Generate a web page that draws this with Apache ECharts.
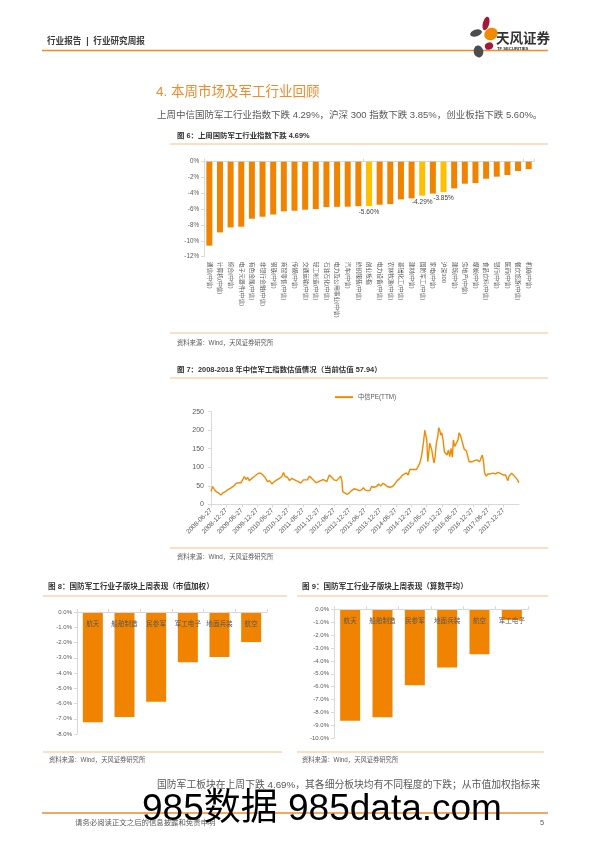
<!DOCTYPE html>
<html><head><meta charset="utf-8">
<script src="https://cdn.jsdelivr.net/npm/echarts@6/dist/echarts.min.js"></script>
<style>html,body{margin:0;padding:0;background:#fff}#c{width:596px;height:842px}</style>
</head><body><div id="c"></div>
<script>
// ---------- DATA ----------
const industryNames = ['通信(中信)','计算机(中信)','综合(中信)','电子元器件(中信)','有色金属(中信)','非银行金融(中信)','钢铁(中信)','商贸零售(中信)','传媒(中信)','交通运输(中信)','轻工制造(中信)','石油石化(中信)','电力及公用事业(中信)','汽车(中信)','纺织服装(中信)','创业板指','电力设备(中信)','农林牧渔(中信)','基础化工(中信)','建材(中信)','国防军工(中信)','家电(中信)','沪深300','建筑(中信)','房地产(中信)','煤炭(中信)','食品饮料(中信)','银行(中信)','医药(中信)','餐饮旅游(中信)','机械(中信)'];
const industryChange = [-10.60,-8.93,-8.30,-8.21,-7.20,-6.95,-6.67,-6.27,-6.19,-6.06,-5.98,-5.73,-5.70,-5.68,-5.62,-5.60,-5.43,-5.35,-4.76,-4.63,-4.29,-4.02,-3.85,-3.37,-2.78,-2.69,-2.15,-1.89,-1.68,-1.18,-0.93];
const highlightNames = ['创业板指','国防军工(中信)','沪深300'];

const peTickLabels = ['2008-06-27','2008-12-27','2009-06-27','2009-12-27','2010-06-27','2010-12-27','2011-06-27','2011-12-27','2012-06-27','2012-12-27','2013-06-27','2013-12-27','2014-06-27','2014-12-27','2015-06-27','2015-12-27','2016-06-27','2016-12-27','2017-06-27','2017-12-27'];
// months elapsed since 2008-06-27
const peMonthOffset = [0,0.65,1.3,2.07,2.98,3.89,4.66,5.57,6.48,7.51,
8.16,8.81,9.84,10.75,11.66,12.31,12.95,13.73,14.25,14.9,
15.93,16.84,17.62,18.52,19.43,20.21,21.11,22.02,22.8,23.7,
24.61,25.65,26.68,27.59,28.24,28.89,29.79,30.57,31.48,32.12,
33.16,34.07,34.97,36.01,36.66,37.56,38.34,39.25,39.9,40.93,
41.84,42.75,43.78,44.43,45.08,46.11,47.02,47.93,48.96,49.61,
50.52,51.04,51.3,52.2,53.11,53.89,54.79,55.7,56.74,57.77,
58.68,59.33,59.97,60.88,61.92,62.56,63.47,64.51,65.28,66.06,
67.1,67.75,68.65,69.69,70.73,71.63,72.54,73.58,74.61,75.13,
76.17,76.81,77.46,78.11,79.02,80.05,80.7,81.35,82.0,82.38,
82.9,83.29,83.68,84.07,84.46,84.84,85.23,85.62,86.01,86.53,
86.92,87.31,87.82,88.34,88.73,89.12,89.51,89.9,90.41,90.93,
91.45,91.97,92.49,93.01,93.52,94.04,94.43,94.95,95.6,96.24,
96.63,97.15,97.67,98.19,98.7,99.48,100.13,100.52,101.04,101.81,
102.72,103.63,104.66,105.31,105.7,106.09,106.61,107.25,107.9,108.81,
109.84,110.88,111.79,112.44,113.08,113.99,114.77,115.28,115.67,116.06,
116.58,117.1,117.62,118.26,118.91,119.43,119.95];
const peValue = [35,48,40,34,30,25,31,34,39,43,
40,49,57,58,58,66,75,67,73,64,
70,75,79,84,84,79,72,61,64,55,
61,66,70,75,86,75,73,64,70,75,
64,61,57,66,70,66,76,70,66,58,
61,64,67,64,61,79,73,66,64,66,
76,61,34,30,27,31,37,42,40,37,
39,45,39,37,37,48,46,48,55,49,
57,52,48,46,48,55,64,70,79,84,
85,79,94,91,94,94,97,111,129,147,
174,200,202,174,115,138,165,169,147,124,
111,129,165,183,207,200,187,193,174,142,
147,133,147,129,151,127,174,156,160,174,
193,187,174,178,148,145,147,115,118,115,
118,120,115,112,133,120,84,76,82,82,
84,82,86,84,82,79,79,70,64,75,
79,84,79,76,75,66,57.94];

const capSectors = ['航天','船舶制造','民参军','军工电子','地面兵装','航空'];
const capChange = [-7.23,-6.88,-5.88,-3.30,-2.95,-1.97];
const avgSectors = ['航天','船舶制造','民参军','地面兵装','航空','军工电子'];
const avgChange = [-8.63,-8.37,-5.89,-4.52,-3.49,-0.82];

// ---------- STYLE ----------
const FONT = '"Liberation Sans", "Noto Sans CJK SC", sans-serif';
const ORANGE = '#F08300';
const YELLOW = '#FFC000';
const LINE_ORANGE = '#F8BE8A';
const GRAY_TXT = '#595959';
const AXIS_GRAY = '#D9D9D9';

function txt(x, y, text, size, color, weight, align, z) {
  return {type:'text', x:x, y:y, z: z || 10, style:{text:text, fontSize:size, fontFamily:FONT, fontWeight:weight||'normal', fill:color, align:align||'left', verticalAlign:'middle'}};
}
function hline(x1, x2, y, color, w) {
  return {type:'line', shape:{x1:x1, y1:y, x2:x2, y2:y}, style:{stroke:color, lineWidth:w||1}};
}
function petal(cx, cy, rx, ry, rot, color) {
  return {type:'circle', x:cx, y:cy, scaleX:rx/10, scaleY:ry/10, rotation:rot, shape:{cx:0, cy:0, r:10}, style:{fill:color}};
}

const graphics = [
  // header
  txt(47, 42, '行业报告  |  行业研究周报', 8.6, '#404040', 'bold'),
  hline(42, 548, 50.5, '#F08A2B', 1.6),
  petal(486, 23.5, 3.2, 7, -0.25, '#A3173A'),
  petal(491, 34, 7, 6, 0.6, '#F08A00'),
  petal(476, 33, 6, 3.5, 0.3, '#4D4D4D'),
  petal(489, 46, 4.2, 3.6, 0.4, '#A3173A'),
  petal(478.5, 51.5, 4.8, 6, 0.2, '#4D4D4D'),
  txt(496, 39, '天风证券', 13.5, '#333333', 'bold'),
  txt(497, 48.5, 'TF SECURITIES', 4.2, '#333333', 'bold'),
  // section heading & text
  txt(156, 92, '4. 本周市场及军工行业回顾', 13.5, '#F08A2B', 'normal'),
  txt(157, 115, '上周中信国防军工行业指数下跌 4.29%，沪深 300 指数下跌 3.85%，创业板指下跌 5.60%。', 9.5, GRAY_TXT),
  // fig 6
  txt(177, 136, '图 6：上周国防军工行业指数下跌 4.69%', 7.4, '#333333', 'bold'),
  hline(170, 548, 144, LINE_ORANGE, 1),
  hline(170, 548, 333, LINE_ORANGE, 1),
  txt(177, 343, '资料来源：Wind，天风证券研究所', 6.3, GRAY_TXT),
  // fig 7
  txt(177, 370, '图 7：2008-2018 年中信军工指数估值情况（当前估值 57.94）', 7.4, '#333333', 'bold'),
  hline(170, 548, 378, LINE_ORANGE, 1),
  hline(170, 548, 548, LINE_ORANGE, 1),
  txt(177, 557, '资料来源：Wind，天风证券研究所', 6.3, GRAY_TXT),
  // fig 8
  txt(48, 587, '图 8：国防军工行业子版块上周表现（市值加权）', 7.6, '#333333', 'bold'),
  hline(43, 287, 596, LINE_ORANGE, 1),
  hline(43, 282, 752, LINE_ORANGE, 1),
  txt(49, 760, '资料来源：Wind，天风证券研究所', 6.3, GRAY_TXT),
  // fig 9
  txt(302, 587, '图 9：国防军工行业子版块上周表现（算数平均）', 7.6, '#333333', 'bold'),
  hline(297, 548, 596, LINE_ORANGE, 1),
  hline(297, 544, 752, LINE_ORANGE, 1),
  txt(302, 760, '资料来源：Wind，天风证券研究所', 6.3, GRAY_TXT),
  // bottom paragraph & footer
  txt(157, 785, '国防军工板块在上周下跌 4.69%，其各细分板块均有不同程度的下跌；从市值加权指标来', 9.8, GRAY_TXT),
  hline(42, 548, 813, '#F08A2B', 1.6),
  txt(75, 823, '请务必阅读正文之后的信息披露和免责申明', 7.4, GRAY_TXT),
  txt(540, 823, '5', 7.4, GRAY_TXT),
  txt(142, 810, '985数据 985data.com', 37, '#000000', 'normal', 'left', 50)
];

const axLabel = {fontFamily:FONT, color:GRAY_TXT};

const option = {
  animation:false,
  backgroundColor:'#ffffff',
  graphic:{elements:graphics},
  legend:{
    show:true, left:330, top:389, itemWidth:18, itemHeight:2, itemGap:4, icon:'rect',
    textStyle:{fontSize:6.3, fontFamily:FONT, color:GRAY_TXT},
    data:['中信PE(TTM)']
  },
  grid:[
    {left:204, top:161.7, width:330, height:95, outerBoundsMode:'none', containLabel:false},
    {left:211, top:411.7, width:308, height:92.6, outerBoundsMode:'none', containLabel:false},
    {left:77, top:612, width:190, height:122, outerBoundsMode:'none', containLabel:false},
    {left:334, top:609.3, width:194, height:129, outerBoundsMode:'none', containLabel:false}
  ],
  xAxis:[
    {gridIndex:0, type:'category', position:'top', data:industryNames,
     axisLine:{lineStyle:{color:AXIS_GRAY}}, axisTick:{show:true, length:3, lineStyle:{color:AXIS_GRAY}},
     axisLabel:{show:false}},
    {gridIndex:0, type:'category', position:'bottom', data:industryNames,
     axisLine:{show:false, onZero:false}, axisTick:{show:false},
     axisLabel:Object.assign({interval:0, rotate:-90, fontSize:5.8, margin:5}, axLabel)},
    {gridIndex:1, type:'value', min:0, max:120, interval:6,
     axisLine:{show:true, onZero:false, lineStyle:{color:AXIS_GRAY}}, axisTick:{show:true, length:3, lineStyle:{color:AXIS_GRAY}},
     splitLine:{show:false},
     axisLabel:Object.assign({rotate:45, fontSize:6.5, margin:5, showMaxLabel:false,
       formatter:function(v){ const i=Math.round(v/6); return peTickLabels[i]||''; }}, axLabel)},
    {gridIndex:2, type:'category', position:'top', data:capSectors, z:10,
     axisLine:{lineStyle:{color:AXIS_GRAY}}, axisTick:{show:true, length:3, lineStyle:{color:AXIS_GRAY}},
     axisLabel:Object.assign({inside:true, interval:0, fontSize:6.6, margin:9}, axLabel)},
    {gridIndex:3, type:'category', position:'top', data:avgSectors, z:10,
     axisLine:{lineStyle:{color:AXIS_GRAY}}, axisTick:{show:true, length:3, lineStyle:{color:AXIS_GRAY}},
     axisLabel:Object.assign({inside:true, interval:0, fontSize:6.6, margin:9}, axLabel)}
  ],
  yAxis:[
    {gridIndex:0, type:'value', min:-12, max:0, interval:2,
     axisLine:{show:true, lineStyle:{color:AXIS_GRAY}}, axisTick:{show:true, length:3, lineStyle:{color:AXIS_GRAY}},
     splitLine:{show:false},
     axisLabel:Object.assign({fontSize:6.3, margin:5, formatter:function(v){return v+'%';}}, axLabel)},
    {gridIndex:1, type:'value', min:0, max:250, interval:50,
     axisLine:{show:true, lineStyle:{color:AXIS_GRAY}}, axisTick:{show:true, length:3, lineStyle:{color:AXIS_GRAY}},
     splitLine:{show:false},
     axisLabel:Object.assign({fontSize:7, margin:7}, axLabel)},
    {gridIndex:2, type:'value', min:-8, max:0, interval:1,
     axisLine:{show:true, lineStyle:{color:AXIS_GRAY}}, axisTick:{show:true, length:3, lineStyle:{color:AXIS_GRAY}},
     splitLine:{show:false},
     axisLabel:Object.assign({fontSize:6, margin:5, formatter:function(v){return v.toFixed(1)+'%';}}, axLabel)},
    {gridIndex:3, type:'value', min:-10, max:0, interval:1,
     axisLine:{show:true, lineStyle:{color:AXIS_GRAY}}, axisTick:{show:true, length:3, lineStyle:{color:AXIS_GRAY}},
     splitLine:{show:false},
     axisLabel:Object.assign({fontSize:6, margin:5, formatter:function(v){return v.toFixed(1)+'%';}}, axLabel)}
  ],
  series:[
    {type:'bar', xAxisIndex:0, yAxisIndex:0, barWidth:6,
     data:industryChange.map(function(v,i){
       const hi = highlightNames.indexOf(industryNames[i]) >= 0;
       return {value:v, itemStyle:{color: hi ? YELLOW : ORANGE},
               label:{show:hi, position:'bottom', distance:3, fontSize:6.5, fontFamily:FONT, color:'#404040',
                      formatter:function(p){return p.value.toFixed(2)+'%';}}};
     })},
    {type:'line', name:'中信PE(TTM)', xAxisIndex:2, yAxisIndex:1, showSymbol:false, symbol:'none',
     lineStyle:{color:'#F08A00', width:1.4}, itemStyle:{color:'#F08A00'},
     data:peMonthOffset.map(function(m,i){return [m, peValue[i]];})},
    {type:'bar', xAxisIndex:3, yAxisIndex:2, barWidth:20, z:2, itemStyle:{color:ORANGE}, data:capChange},
    {type:'bar', xAxisIndex:4, yAxisIndex:3, barWidth:20, z:2, itemStyle:{color:ORANGE}, data:avgChange}
  ]
};

const chart = echarts.init(document.getElementById('c'), null, {renderer:'canvas', width:596, height:842});
chart.setOption(option);
</script>
</body></html>
